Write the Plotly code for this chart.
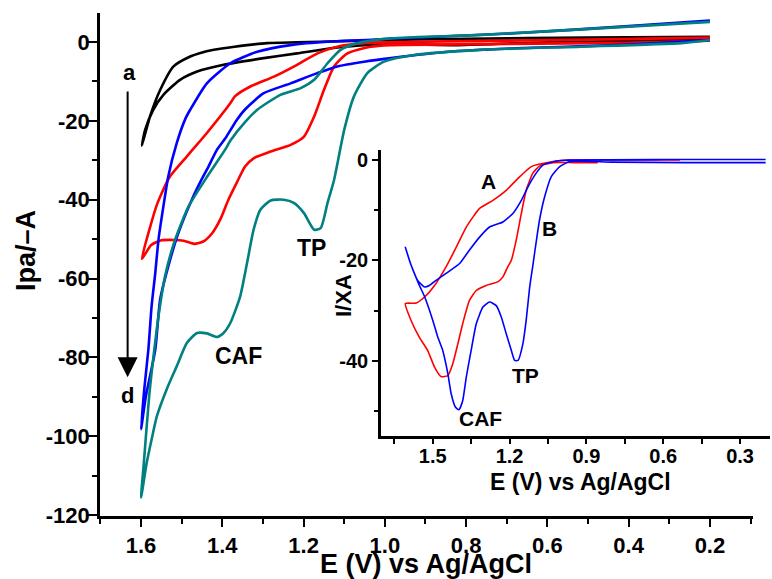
import plotly.graph_objects as go

# ---------------- main plot data (E in V, I in µA) ----------------
a_E = [0.2, 0.5, 0.8, 0.985, 1.1, 1.216, 1.29, 1.339, 1.37, 1.421, 1.454, 1.479, 1.52, 1.553, 1.578, 1.598,
       1.59, 1.57, 1.545, 1.504, 1.462, 1.397, 1.298, 1.216, 1.133, 1.05, 0.96, 0.82, 0.6, 0.4, 0.2]
a_I = [1.3, 1.1, 0.8, 0.5, 0.2, -0.1, -0.3, -0.8, -1.2, -2.0, -2.8, -3.7, -6.2, -12.2, -18.9, -26.3,
       -22.3, -17.2, -13.4, -9.6, -7.5, -5.8, -4.1, -2.9, -1.6, -0.8, -0.6, -0.8, -0.1, 0.3, 0.6]

b_E = [0.2, 0.5, 0.8, 1.0, 1.051, 1.117, 1.166, 1.216, 1.273, 1.331, 1.369, 1.38, 1.438, 1.487, 1.530, 1.560,
       1.580, 1.598,
       1.575, 1.55, 1.52, 1.495, 1.469, 1.447, 1.425, 1.405, 1.385, 1.365, 1.344, 1.323, 1.281, 1.232, 1.199,
       1.174, 1.15, 1.125, 1.092, 1.035, 0.985, 0.7, 0.4, 0.2]
b_I = [1.1, 0.6, 0.2, -0.1, -0.3, -1.2, -2.9, -5.8, -8.8, -11.3, -13.8, -15.5, -23.1, -29.0, -34.3, -41.0,
       -47.8, -55.0,
       -51.5, -50.3, -50.2, -50.4, -51.2, -50.6, -48.5, -45.0, -40.0, -35.8, -31.6, -29.5, -27.8, -26.1, -24.0,
       -18.9, -12.2, -6.2, -2.9, -1.2, -0.8, -0.5, -0.2, 0.3]

c_E = [0.2, 0.4, 0.68, 0.985, 1.133, 1.232, 1.314, 1.38, 1.438, 1.479, 1.491, 1.512, 1.533, 1.545, 1.557, 1.565,
       1.574, 1.582, 1.592, 1.600,
       1.588, 1.565, 1.553, 1.533, 1.508, 1.475, 1.454, 1.434, 1.413, 1.393, 1.364, 1.343, 1.298, 1.232, 1.166,
       1.117, 1.051, 0.985, 0.845, 0.68, 0.434, 0.2]
c_I = [5.4, 4.0, 2.2, 0.8, 0.1, -0.8, -2.5, -5.4, -10.5, -17.2, -19.5, -25.6, -34.1, -41.7, -50.1, -58.6,
       -67.0, -78.0, -88.0, -98.2,
       -89.8, -78.0, -65.3, -56.9, -48.4, -40.0, -35.5, -31.6, -27.3, -24.5, -19.7, -17.0, -13.0, -10.5, -7.9,
       -6.2, -5.0, -4.1, -2.5, -1.6, -0.8, 0.5]

d_E = [0.2, 0.516, 0.763, 0.985, 1.067, 1.109, 1.141, 1.174, 1.207, 1.257, 1.314, 1.343, 1.38, 1.393, 1.442,
       1.483, 1.516, 1.541, 1.557, 1.565, 1.58, 1.593, 1.600,
       1.586, 1.574, 1.561, 1.537, 1.512, 1.487, 1.462, 1.438, 1.413, 1.397, 1.38, 1.356, 1.339, 1.323, 1.306,
       1.281, 1.249, 1.224, 1.199, 1.174, 1.158, 1.141, 1.125, 1.10, 1.076, 1.043, 1.002, 0.928, 0.763, 0.516,
       0.27, 0.2]
d_I = [5.1, 3.2, 1.8, 0.9, -0.3, -2.0, -5.4, -9.6, -11.7, -13.4, -17.2, -20.2, -25.0, -27.3, -34.9,
       -41.7, -50.1, -59.4, -69.5, -76.0, -89.8, -106.6, -115.5,
       -106.7, -100.8, -94.9, -88.1, -82.2, -76.3, -73.8, -73.9, -74.8, -73.8, -71.2, -64.5, -56.0, -47.6, -42.5,
       -40.2, -40.0, -40.8, -43.4, -47.6, -47.2, -40.8, -35.0, -22.3, -13.8, -7.9, -5.0, -3.3, -2.0, -1.2,
       -0.3, 0.5]

# ---------------- inset data ----------------
ir_E = [0.856, 0.95, 1.03, 1.083, 1.109, 1.135, 1.154, 1.174, 1.193, 1.207, 1.226, 1.246, 1.291, 1.33, 1.357,
        1.383, 1.402, 1.422, 1.441, 1.467, 1.493, 1.52, 1.552, 1.585, 1.607,
        1.565, 1.532, 1.493, 1.448, 1.408, 1.369, 1.317, 1.265, 1.213, 1.16, 1.115, 1.03, 0.965, 0.8, 0.535]
ir_I = [-0.6, -0.6, -0.6, -1.3, -2.7, -6.1, -10.7, -16.0, -20.0, -21.3, -23.3, -24.3, -25.0, -26.0, -28.0,
        -32.6, -36.6, -40.6, -42.9, -43.1, -41.2, -37.9, -35.3, -31.9, -28.6,
        -28.5, -27.3, -25.0, -21.3, -17.4, -13.4, -9.7, -8.1, -6.1, -3.4, -1.4, -0.4, -0.1, -0.1, -0.1]

ib_E = [0.2, 0.5, 0.8, 0.965, 1.004, 1.037, 1.063, 1.083, 1.095, 1.109, 1.122, 1.135, 1.148, 1.167, 1.18,
        1.193, 1.213, 1.232, 1.252, 1.278, 1.304, 1.33, 1.35, 1.369, 1.383, 1.398, 1.411, 1.428, 1.441, 1.461,
        1.48, 1.5, 1.532, 1.552, 1.57, 1.588, 1.607,
        1.585, 1.559, 1.532, 1.513, 1.487, 1.448, 1.396, 1.357, 1.317, 1.278, 1.226, 1.187, 1.154, 1.128,
        1.096, 1.07, 1.017, 0.965, 0.6, 0.2]
ib_I = [-0.6, -0.6, -0.5, -0.4, -1.4, -3.4, -7.4, -12.0, -16.0, -21.0, -25.6, -31.9, -36.6, -39.9, -39.9,
        -37.9, -34.6, -31.3, -29.0, -28.3, -29.3, -32.6, -37.9, -43.2, -47.9, -49.7, -49.2, -46.5, -42.5, -37.9,
        -35.3, -31.9, -27.2, -25.0, -22.8, -20.5, -17.4,
        -20.9, -24.0, -25.3, -25.0, -24.0, -22.6, -20.7, -18.0, -15.4, -13.4, -12.4, -10.7, -8.1, -5.4,
        -2.7, -1.1, -0.3, -0.1, 0.0, 0.0]

# ---------------- tick labels ----------------
main_x_ticks = [1.6, 1.4, 1.2, 1.0, 0.8, 0.6, 0.4, 0.2]
main_x_labels = ["1.6", "1.4", "1.2", "1.0", "0.8", "0.6", "0.4", "0.2"]
main_y_ticks = [0, -20, -40, -60, -80, -100, -120]
main_y_labels = ["0", "-20", "-40", "-60", "-80", "-100", "-120"]
ins_x_ticks = [1.5, 1.2, 0.9, 0.6, 0.3]
ins_x_labels = ["1.5", "1.2", "0.9", "0.6", "0.3"]
ins_y_ticks = [0, -20, -40]
ins_y_labels = ["0", "-20", "-40"]

W, H = 772, 579
FONT = "Liberation Sans"


def px(x):
    return x / W


def py(y):
    return 1 - y / H


fig = go.Figure()
main_curves = [(a_E, a_I, "black"), (b_E, b_I, "#ff0000"), (c_E, c_I, "#0000ff"), (d_E, d_I, "#008080")]
for E, I, col in main_curves:
    fig.add_trace(go.Scatter(x=E, y=I, mode="lines",
                             line=dict(color=col, width=2.6, shape="spline", smoothing=0.6),
                             xaxis="x", yaxis="y", showlegend=False, hoverinfo="skip"))
for E, I, col in [(ir_E, ir_I, "#ff0000"), (ib_E, ib_I, "#0000ff")]:
    fig.add_trace(go.Scatter(x=E, y=I, mode="lines",
                             line=dict(color=col, width=1.6, shape="spline", smoothing=0.5),
                             xaxis="x2", yaxis="y2", showlegend=False, hoverinfo="skip"))

axis_common = dict(showline=True, linecolor="black", showgrid=False, zeroline=False,
                   ticks="outside", tickcolor="black", mirror=False, automargin=False)

fig.update_layout(
    width=W, height=H, margin=dict(l=0, r=0, t=0, b=0, autoexpand=False),
    paper_bgcolor="white", plot_bgcolor="white",
    font=dict(family=FONT, color="black"),
    xaxis=dict(axis_common, domain=[px(100), px(753)], range=[1.701, 0.094],
               tickvals=main_x_ticks, ticktext=main_x_labels, linewidth=2.6, tickwidth=2.2, ticklen=8,
               minor=dict(dtick=0.1, tick0=0.0, ticklen=5, tickwidth=2.2, ticks="outside", tickcolor="black"),
               tickfont=dict(family=FONT, size=22, weight="bold"), anchor="y"),
    yaxis=dict(axis_common, domain=[py(516), py(13)], range=[-120.2, 7.34],
               tickvals=main_y_ticks, ticktext=main_y_labels, linewidth=2.6, tickwidth=2.2, ticklen=9,
               minor=dict(dtick=10, tick0=0, ticklen=5, tickwidth=2.2, ticks="outside", tickcolor="black"),
               tickfont=dict(family=FONT, size=22, weight="bold"), anchor="x", ticklabelstandoff=-6),
    xaxis2=dict(axis_common, domain=[px(381), px(770)], range=[1.702, 0.183],
                tickvals=ins_x_ticks, ticktext=ins_x_labels, linewidth=2.6, tickwidth=2, ticklen=5,
                minor=dict(dtick=0.15, tick0=0.0, ticklen=5, tickwidth=2, ticks="outside", tickcolor="black"),
                tickfont=dict(family=FONT, size=20, weight="bold"), anchor="y2", ticklabelstandoff=-5),
    yaxis2=dict(axis_common, domain=[py(436), py(150)], range=[-54.9, 1.9],
                tickvals=ins_y_ticks, ticktext=ins_y_labels, linewidth=2.6, tickwidth=2, ticklen=6,
                minor=dict(dtick=10, tick0=0, ticklen=4, tickwidth=2, ticks="outside", tickcolor="black"),
                tickfont=dict(family=FONT, size=20, weight="bold"), anchor="x2"),
)


def ann(text, x, y, size, angle=0, xanchor="center", yanchor="middle"):
    return dict(text="<b>%s</b>" % text, x=px(x), y=py(y), xref="paper", yref="paper",
                showarrow=False, textangle=angle, xanchor=xanchor, yanchor=yanchor,
                font=dict(family=FONT, size=size, color="black"))


annotations = [
    ann("Ipa/–A", 26, 251, 27, angle=-90),
    ann("E (V) vs Ag/AgCl", 426, 564, 27),
    ann("TP", 311, 248, 23),
    ann("CAF", 238, 356, 23),
    ann("a", 129, 73, 22),
    ann("d", 127, 395, 22),
    ann("A", 488, 182, 21),
    ann("B", 549, 229, 21),
    ann("TP", 525, 375, 21),
    ann("CAF", 480, 418, 21),
    ann("E (V) vs Ag/AgCl", 580, 482, 23),
    ann("I/ΧA", 343, 296, 22, angle=-90),
    dict(x=1.633, y=-85.0, ax=1.633, ay=-12.2, xref="x", yref="y", axref="x", ayref="y",
         showarrow=True, arrowhead=2, arrowsize=2.0, arrowwidth=2, arrowcolor="black", text=""),
]
fig.update_layout(annotations=annotations)

fig.write_html("out.html", config={"displayModeBar": False},
               post_script="document.body.style.margin='0px';document.body.style.padding='0px';")
